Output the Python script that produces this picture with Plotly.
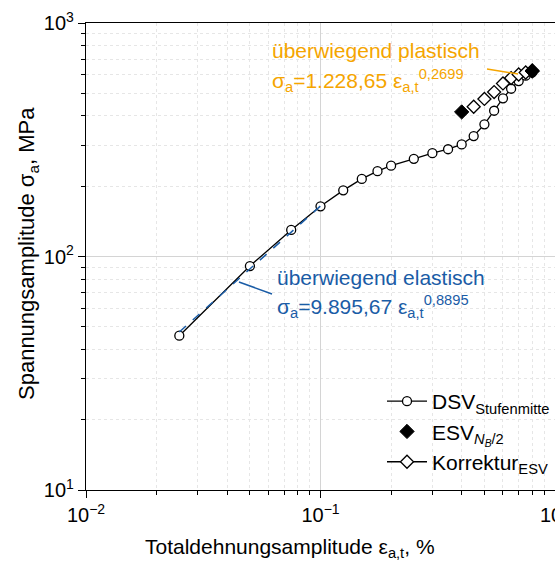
import plotly.graph_objects as go

# DSV (Stufenmitte) data
dsv_x = [0.025, 0.05, 0.075, 0.1, 0.125, 0.15, 0.175, 0.2, 0.25, 0.3, 0.35, 0.4,
         0.45, 0.5, 0.55, 0.6, 0.65, 0.7, 0.75, 0.8]
dsv_y = [45.8, 91.0, 129.9, 164, 192, 215, 232, 245, 262, 277, 288, 302,
         328, 368, 421, 476, 523, 564, 595, 615]

# ESV N_B/2
esv_x = [0.4, 0.8]
esv_y = [416, 622]

# Korrektur ESV
kor_x = [0.45, 0.5, 0.55, 0.6, 0.65, 0.7, 0.75, 0.8]
kor_y = [438, 473, 506, 551, 581, 602, 614, 626]

# fit lines (endpoints)
fit_el_x = [0.025, 0.1]
fit_el_y = [47.5, 164.6]
fit_pl_x = [0.6, 0.8]
fit_pl_y = [566, 612]

# callout lines
call_el_x = [0.0449, 0.0621]
call_el_y = [77.8, 69.1]
call_pl_x = [0.513, 0.696]
call_pl_y = [635, 605]

ORANGE = "#F5A500"
BLUE = "#1A5CA6"
FONT = "Liberation Sans, Arial, sans-serif"

fig = go.Figure()

fig.add_trace(go.Scatter(x=fit_pl_x, y=fit_pl_y, mode="lines",
                         line=dict(color=ORANGE, width=1.5, dash="dash"),
                         showlegend=False, hoverinfo="skip"))
fig.add_trace(go.Scatter(x=dsv_x, y=dsv_y, mode="lines+markers",
                         name="DSV<sub>Stufenmitte</sub>",
                         line=dict(color="black", width=1.3),
                         marker=dict(symbol="circle", size=9, color="white",
                                     line=dict(color="black", width=1.3))))
fig.add_trace(go.Scatter(x=fit_el_x, y=fit_el_y, mode="lines",
                         line=dict(color=BLUE, width=1.5, dash="dash"),
                         showlegend=False, hoverinfo="skip"))
fig.add_trace(go.Scatter(x=kor_x, y=kor_y, mode="markers",
                         name="Korrektur<sub>ESV</sub>",
                         marker=dict(symbol="diamond", size=10, color="white",
                                     line=dict(color="black", width=1.3)),
                         showlegend=False))
fig.add_trace(go.Scatter(x=esv_x, y=esv_y, mode="markers",
                         name="ESV<sub><i>N<sub>B</sub></i>/2</sub>",
                         marker=dict(symbol="diamond", size=11, color="black",
                                     line=dict(color="black", width=1))))
# legend-only entry for Korrektur with line
fig.add_trace(go.Scatter(x=[None], y=[None], mode="lines+markers",
                         name="Korrektur<sub>ESV</sub>",
                         line=dict(color="black", width=1.3),
                         marker=dict(symbol="diamond", size=10, color="white",
                                     line=dict(color="black", width=1.3))))
fig.add_trace(go.Scatter(x=call_el_x, y=call_el_y, mode="lines",
                         line=dict(color=BLUE, width=1.5),
                         showlegend=False, hoverinfo="skip"))
fig.add_trace(go.Scatter(x=call_pl_x, y=call_pl_y, mode="lines",
                         line=dict(color=ORANGE, width=1.5),
                         showlegend=False, hoverinfo="skip"))

W, H = 555, 565
L, R, T, B = 86, 0, 23, 75
pw, ph = W - L - R, H - T - B


def px(x):
    return (x - L) / pw


def py(y):
    return (H - B - y) / ph


ann = [
    dict(text="überwiegend plastisch", x=px(270), y=py(50), color=ORANGE),
    dict(text="σ<sub>a</sub>=1.228,65 ε<sub>a,t</sub><sup>0,2699</sup>", x=px(270), y=py(80), color=ORANGE),
    dict(text="überwiegend elastisch", x=px(275), y=py(277), color=BLUE),
    dict(text="σ<sub>a</sub>=9.895,67 ε<sub>a,t</sub><sup>0,8895</sup>", x=px(275), y=py(306), color=BLUE),
]
for a in ann:
    fig.add_annotation(text=a["text"], x=a["x"], y=a["y"], xref="paper", yref="paper",
                       xanchor="left", yanchor="middle", showarrow=False,
                       font=dict(family=FONT, size=21, color=a["color"]))

# axis titles as annotations for exact placement
fig.add_annotation(text="Totaldehnungsamplitude ε<sub>a,t</sub>, %",
                   x=px(290), y=py(548), xref="paper", yref="paper",
                   xanchor="center", yanchor="middle", showarrow=False,
                   font=dict(family=FONT, size=21, color="black"))
fig.add_annotation(text="Spannungsamplitude σ<sub>a</sub>, MPa",
                   x=px(28), y=py(254), xref="paper", yref="paper",
                   xanchor="center", yanchor="middle", showarrow=False, textangle=-90,
                   font=dict(family=FONT, size=22, color="black"))

minor_x = [k * 10 ** e for e in (-2, -1) for k in range(2, 10)]
minor_y = [k * 10 ** e for e in (1, 2) for k in range(2, 10)]

fig.update_layout(
    width=W, height=H,
    margin=dict(l=L, r=R, t=T, b=B, pad=0),
    paper_bgcolor="white", plot_bgcolor="white",
    font=dict(family=FONT, size=20, color="black"),
    xaxis=dict(type="log", range=[-2, 0],
               tickvals=[0.01, 0.1, 1],
               ticktext=["10<sup>−2</sup>", "10<sup>−1</sup>", "10<sup>0</sup>"],
               ticks="outside", ticklen=7, tickwidth=1, tickcolor="black",
               showline=True, linecolor="black", linewidth=1.2, mirror=True,
               showgrid=True, gridcolor="#d4d4d4", gridwidth=1,
               automargin=False, ticklabeloverflow="allow",
               minor=dict(tickvals=minor_x, ticks="outside", ticklen=4, tickcolor="black",
                          showgrid=True, gridcolor="#e6e6e6", griddash="dot", gridwidth=1),
               zeroline=False),
    yaxis=dict(type="log", range=[1, 3],
               tickvals=[10, 100, 1000],
               ticktext=["10<sup>1</sup>", "10<sup>2</sup>", "10<sup>3</sup>"],
               ticks="outside", ticklen=7, tickwidth=1, tickcolor="black",
               showline=True, linecolor="black", linewidth=1.2, mirror=False,
               showgrid=True, gridcolor="#d4d4d4", gridwidth=1,
               automargin=False,
               minor=dict(tickvals=minor_y, ticks="outside", ticklen=4, tickcolor="black",
                          showgrid=True, gridcolor="#e6e6e6", griddash="dot", gridwidth=1),
               zeroline=False),
    legend=dict(x=1, y=py(482), xanchor="right", yanchor="bottom",
                bgcolor="rgba(0,0,0,0)", borderwidth=0,
                font=dict(family=FONT, size=21, color="black"),
                itemwidth=40, tracegroupgap=0),
    showlegend=True,
)

fig.write_html("out.html")
